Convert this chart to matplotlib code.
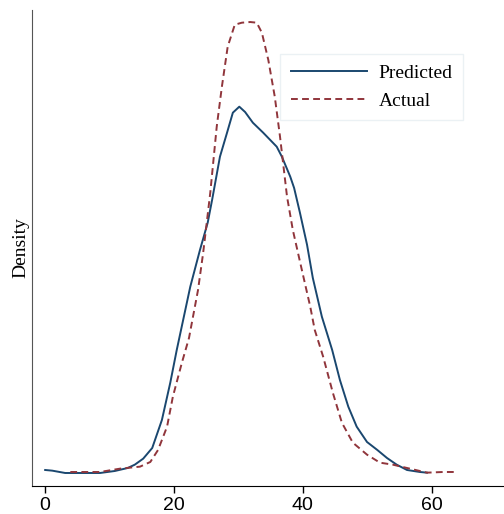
import matplotlib.pyplot as plt

# kernel density curves (x in years, y in density)
pred_x = [0.1, 1.2, 3.2, 5.5, 8.6, 10.9, 12.9, 14.0, 15.3, 16.7, 18.2, 19.5, 20.5,
          22.6, 24.1, 25.3, 26.0, 27.2, 28.3, 29.2, 30.2, 31.1, 32.3, 33.9, 35.0,
          36.0, 36.8, 38.1, 38.7, 39.6, 40.7, 41.6, 43.0, 44.6, 45.8, 47.1, 48.4, 50.0,
          51.6, 53.1, 54.6, 56.2, 58.2, 59.3]
pred_y = [0.0024, 0.0023, 0.00195, 0.00195, 0.00195, 0.00225, 0.0027, 0.0032, 0.0041,
          0.0057, 0.0099, 0.0155, 0.0204, 0.0299, 0.0354, 0.0395, 0.0430,
          0.0494, 0.0530, 0.0560, 0.0569, 0.0561, 0.0545, 0.0530, 0.0519, 0.0509, 0.0494,
          0.0464, 0.0447, 0.0410, 0.0362, 0.0312, 0.0254, 0.0204, 0.0159, 0.0119, 0.0089,
          0.0066, 0.0054, 0.0042, 0.0032, 0.0024, 0.0021, 0.0020]

act_x = [4.0, 8.6, 11.7, 14.8, 16.4, 17.6, 19.0, 19.9, 21.3, 22.4, 23.8, 24.6, 25.2, 25.7,
         26.7, 27.5, 28.4, 29.5, 30.6, 31.9, 32.9, 33.7, 34.7, 35.7, 36.5, 37.6,
         38.5, 39.9, 41.2, 41.9, 43.2, 44.7, 46.1, 47.8, 50.0, 52.0, 54.0, 56.2, 59.3,
         61.8, 64.0]
act_y = [0.0021, 0.0021, 0.0026, 0.0029, 0.0036, 0.0054, 0.0089, 0.0134, 0.0185, 0.0222,
         0.0294, 0.0350, 0.0399, 0.0440, 0.0539, 0.0599, 0.0659, 0.0692, 0.0695, 0.0696,
         0.0695, 0.0680, 0.0639, 0.0584, 0.0525, 0.0434, 0.0384, 0.0324, 0.0269,
         0.0234, 0.0194, 0.0140, 0.0095, 0.0065, 0.0047, 0.0035, 0.0032, 0.0027, 0.0020,
         0.0021, 0.0021]

xticks = [0, 20, 40, 60]

fig = plt.figure(figsize=(5.04, 5.14), dpi=100)
ax = fig.add_axes([0.0635, 0.0545, 0.9365, 0.926])

ax.plot(pred_x, pred_y, color="#1a476f", lw=1.4, label="Predicted", solid_joinstyle="round")
ax.plot(act_x, act_y, color="#90353b", lw=1.4, dashes=(3.5, 2.2), label="Actual")

ax.set_xlim(-1.94, 71.24)
ax.set_ylim(0, 0.0714)
ax.set_xticks(xticks)
ax.set_xticklabels([str(t) for t in xticks], family="Liberation Sans", fontsize=14)
ax.tick_params(axis="x", length=5, width=1, pad=3)
ax.set_yticks([])
ax.set_ylabel("Density", family="Liberation Serif", fontsize=14, labelpad=2)

for side in ("top", "right"):
    ax.spines[side].set_visible(False)
ax.spines["left"].set_color("#555555")
ax.spines["bottom"].set_color("black")

leg = ax.legend(loc="upper left", bbox_to_anchor=(0.556, 0.895), bbox_transform=fig.transFigure,
                borderaxespad=0, frameon=True, fancybox=False, handlelength=3.9, handletextpad=0.6,
                borderpad=0.55, labelspacing=0.5, prop={"family": "Liberation Serif", "size": 14})
leg.get_frame().set_edgecolor("#e6eef2")
leg.get_frame().set_linewidth(1.0)

fig.savefig("out.png", dpi=100)
